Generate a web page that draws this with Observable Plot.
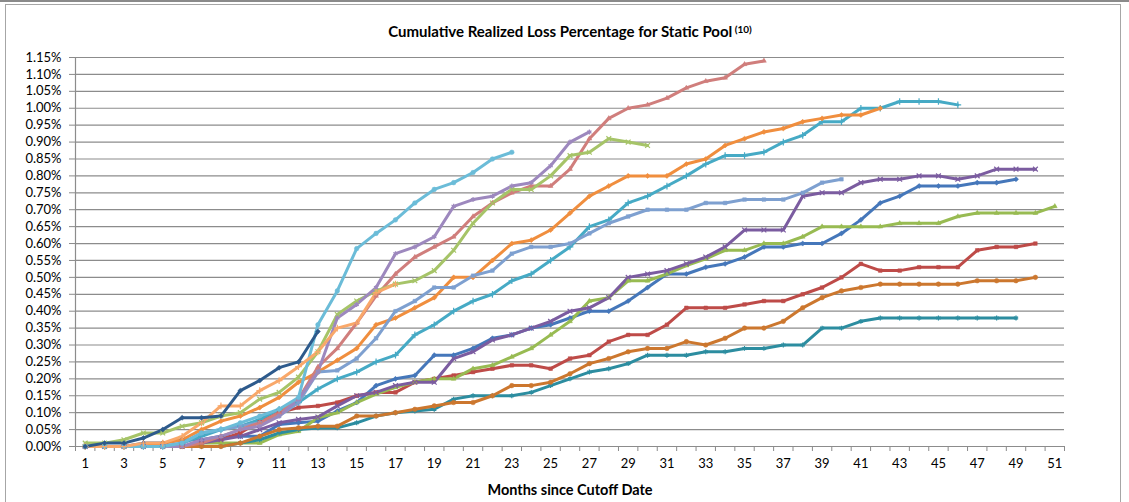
<!DOCTYPE html>
<html><head><meta charset="utf-8">
<script src="https://cdn.jsdelivr.net/npm/d3@7"></script>
<script src="https://cdn.jsdelivr.net/npm/@observablehq/plot@0.6"></script>
<style>
html,body{margin:0;padding:0;background:#fff;}
#wrap{position:relative;width:1129px;height:502px;overflow:hidden;}
#topline{position:absolute;left:0;top:0;width:1129px;height:2px;background:#8a8a8a;}
#frame{position:absolute;left:5px;top:4px;width:1116px;height:540px;border:1.5px solid #a6a6a6;box-sizing:border-box;}
#chart{position:absolute;left:0;top:0;}
#chart svg text{fill:#000;}
</style></head>
<body><div id="wrap"><div id="topline"></div><div id="frame"></div><div id="chart"></div></div>
<script>
// ---- data (cumulative realized loss %, by months since cutoff) ----
const months = d3.range(1, 52);
const yTickValues = d3.range(0, 1.1501, 0.05).map(v => +v.toFixed(2));
const xLabelMonths = d3.range(1, 52, 2);
const title = "Cumulative Realized Loss Percentage for Static Pool";
const titleNote = "(10)";
const xTitle = "Months since Cutoff Date";

const pool01 = [0.00,0.00,0.00,0.01,0.01,0.02,0.02,0.03,0.03,0.03,0.065,0.07,0.075,0.105,0.13,0.18,0.20,0.21,0.27,0.27,0.29,0.32,0.33,0.35,0.36,0.38,0.40,0.40,0.43,0.47,0.51,0.51,0.53,0.54,0.56,0.59,0.59,0.60,0.60,0.63,0.67,0.72,0.74,0.77,0.77,0.77,0.78,0.78,0.79];
const pool02 = [0.00,0.00,0.00,0.00,0.00,0.00,0.01,0.02,0.04,0.075,0.10,0.115,0.12,0.13,0.15,0.16,0.16,0.19,0.20,0.21,0.22,0.23,0.24,0.24,0.23,0.26,0.27,0.31,0.33,0.33,0.36,0.41,0.41,0.41,0.42,0.43,0.43,0.45,0.47,0.50,0.54,0.52,0.52,0.53,0.53,0.53,0.58,0.59,0.59,0.60];
const pool03 = [0.00,0.00,0.00,0.00,0.00,0.00,0.01,0.01,0.01,0.01,0.035,0.045,0.085,0.10,0.13,0.155,0.175,0.19,0.20,0.20,0.23,0.24,0.265,0.29,0.33,0.37,0.43,0.44,0.49,0.49,0.51,0.535,0.555,0.58,0.58,0.60,0.60,0.62,0.65,0.65,0.65,0.65,0.66,0.66,0.66,0.68,0.69,0.69,0.69,0.69,0.71];
const pool04 = [0.00,0.00,0.00,0.00,0.00,0.00,0.01,0.02,0.03,0.05,0.07,0.08,0.087,0.12,0.15,0.16,0.18,0.19,0.19,0.26,0.28,0.315,0.33,0.35,0.37,0.40,0.41,0.44,0.50,0.51,0.52,0.54,0.56,0.59,0.64,0.64,0.64,0.74,0.75,0.75,0.78,0.79,0.79,0.80,0.80,0.79,0.80,0.82,0.82,0.82];
const pool05 = [0.00,0.00,0.00,0.00,0.00,0.00,0.00,0.00,0.01,0.02,0.04,0.05,0.055,0.055,0.07,0.09,0.10,0.105,0.11,0.14,0.15,0.15,0.15,0.16,0.18,0.20,0.22,0.23,0.245,0.27,0.27,0.27,0.28,0.28,0.29,0.29,0.30,0.30,0.35,0.35,0.37,0.38,0.38,0.38,0.38,0.38,0.38,0.38,0.38];
const pool06 = [0.00,0.00,0.00,0.00,0.00,0.00,0.00,0.00,0.01,0.03,0.05,0.055,0.06,0.06,0.09,0.09,0.10,0.11,0.12,0.13,0.13,0.15,0.18,0.18,0.19,0.215,0.245,0.26,0.28,0.29,0.29,0.31,0.30,0.32,0.35,0.35,0.37,0.41,0.44,0.46,0.47,0.48,0.48,0.48,0.48,0.48,0.49,0.49,0.49,0.50];
const pool07 = [0.00,0.00,0.00,0.00,0.00,0.01,0.03,0.05,0.06,0.08,0.11,0.13,0.17,0.20,0.22,0.25,0.27,0.33,0.36,0.40,0.43,0.45,0.49,0.51,0.55,0.59,0.65,0.67,0.72,0.74,0.77,0.80,0.835,0.86,0.86,0.87,0.90,0.92,0.96,0.96,1.00,1.00,1.02,1.02,1.02,1.01];
const pool08 = [0.00,0.00,0.00,0.00,0.01,0.02,0.05,0.075,0.09,0.115,0.145,0.19,0.22,0.255,0.29,0.36,0.38,0.41,0.44,0.50,0.50,0.55,0.60,0.61,0.64,0.69,0.74,0.77,0.80,0.80,0.80,0.835,0.85,0.89,0.91,0.93,0.94,0.96,0.97,0.98,0.98,1.00];
const pool09 = [0.00,0.00,0.00,0.00,0.00,0.01,0.04,0.05,0.06,0.07,0.09,0.13,0.22,0.225,0.26,0.32,0.40,0.43,0.47,0.47,0.505,0.52,0.57,0.59,0.59,0.60,0.63,0.66,0.68,0.70,0.70,0.70,0.72,0.72,0.73,0.73,0.73,0.75,0.78,0.79];
const pool10 = [0.00,0.00,0.00,0.00,0.00,0.00,0.01,0.03,0.05,0.07,0.10,0.14,0.235,0.29,0.365,0.445,0.51,0.56,0.59,0.62,0.68,0.72,0.75,0.77,0.77,0.82,0.91,0.97,1.00,1.01,1.03,1.06,1.08,1.09,1.13,1.14];
const pool11 = [0.01,0.01,0.02,0.04,0.04,0.06,0.07,0.09,0.10,0.14,0.16,0.205,0.28,0.39,0.43,0.46,0.48,0.49,0.52,0.58,0.66,0.72,0.76,0.76,0.80,0.86,0.87,0.91,0.90,0.89];
const pool12 = [0.00,0.00,0.00,0.00,0.00,0.00,0.02,0.03,0.05,0.06,0.09,0.14,0.22,0.38,0.42,0.47,0.57,0.59,0.62,0.71,0.73,0.74,0.77,0.78,0.83,0.90,0.93];
const pool13 = [0.00,0.00,0.00,0.00,0.00,0.01,0.04,0.05,0.07,0.09,0.11,0.145,0.36,0.46,0.585,0.63,0.67,0.72,0.76,0.78,0.81,0.85,0.87];
const pool14 = [0.00,0.00,0.00,0.01,0.01,0.03,0.07,0.12,0.12,0.165,0.195,0.236,0.28,0.35,0.365,0.455,0.48];
const pool15 = [0.00,0.01,0.01,0.025,0.05,0.085,0.085,0.09,0.165,0.195,0.233,0.25,0.34];

const poolValues = [pool01,pool02,pool03,pool04,pool05,pool06,pool07,pool08,pool09,pool10,pool11,pool12,pool13,pool14,pool15];
const poolColors = ["#4577BA","#BE4B48","#98BB52","#7B5CA0","#2C8DA0","#CC772E","#46AAC5","#F08E3E","#7EA0D0","#D07E7C","#A6C468","#9D88BE","#6BBCD8","#F9A86A","#2D5A8C"];
const poolSymbols = ["diamond2","square2","triangle2","times","asterisk","circle","plus","diamond2","square2","triangle2","times","asterisk","circle","plus","diamond2"];

// ---- build table ----
const rows = [];
poolValues.forEach((vals, i) => vals.forEach((v, j) => rows.push({pool: i, month: months[j], value: v})));

const lineMarks = [];
const dotMarks = [];
poolValues.forEach((vals, i) => {
  const d = rows.filter(r => r.pool === i);
  lineMarks.push(Plot.line(d, {x: "month", y: "value", stroke: poolColors[i], strokeWidth: 3, strokeLinejoin: "round", strokeLinecap: "round"}));
  const sym = poolSymbols[i];
  const stroked = ["times","asterisk","plus"].includes(sym);
  dotMarks.push(Plot.dot(d, {x: "month", y: "value", symbol: sym, r: 2.3,
    fill: stroked ? "none" : poolColors[i], stroke: poolColors[i], strokeWidth: stroked ? 1.2 : 0.5}));
});

const boundaries = d3.range(0.5, 52, 1);

const chart = Plot.plot({
  width: 1129, height: 502,
  marginLeft: 75, marginRight: 65, marginTop: 57, marginBottom: 56,
  style: {fontFamily: "Lato, 'Open Sans', sans-serif", fontSize: "13px", color: "#8a8a8a", background: "transparent", overflow: "visible"},
  x: {domain: [0.5, 51.5], ticks: boundaries, tickFormat: () => "", tickSize: 5, label: null},
  y: {domain: [0, 1.15], ticks: yTickValues, tickFormat: d => d.toFixed(2) + "%", tickSize: 6, tickPadding: 8, label: null},
  marks: [
    Plot.ruleY(yTickValues.filter(v => v > 0), {stroke: "#8c8c8c", strokeWidth: 1.2}),
    Plot.ruleX([0.5], {stroke: "#8c8c8c", strokeWidth: 1.2}),
    Plot.ruleY([0], {stroke: "#8c8c8c", strokeWidth: 1.2}),
    ...lineMarks,
    ...dotMarks,
    Plot.text(xLabelMonths, {x: d => d, text: d => String(d), frameAnchor: "bottom", dy: 21, fontSize: 13}),
    Plot.text([title], {frameAnchor: "top", dy: -31, fontWeight: "bold", fontSize: 15}),
    Plot.text([xTitle], {frameAnchor: "bottom", dy: 48, fontWeight: "bold", fontSize: 14.5})
  ]
});
document.getElementById("chart").appendChild(chart);
// superscript footnote marker in the title
d3.select(chart).selectAll("text").filter(function() { return this.textContent === title; })
  .append("tspan").attr("dy", "-0.4em").attr("font-size", "10px").attr("font-weight", "bold").text(" " + titleNote);
</script>
</body></html>
